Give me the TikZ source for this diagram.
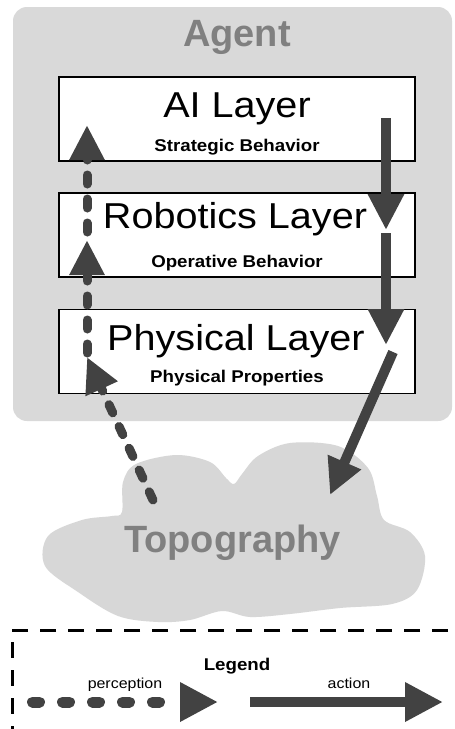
\documentclass[tikz,border=0pt]{standalone}
\usepackage{fontspec}
\setmainfont{Liberation Sans}
\newfontfamily\widesans[FakeStretch=1.1]{Liberation Sans}
\usetikzlibrary{arrows.meta}

\definecolor{agentbg}{RGB}{217,217,217}
\definecolor{cloudbg}{RGB}{215,215,215}
\definecolor{titlegray}{RGB}{128,128,128}
\definecolor{arrowgray}{RGB}{66,66,66}

\begin{document}
\begin{tikzpicture}[x=1pt,y=-1pt,
  agentbox/.style={fill=agentbg, rounded corners=14pt, minimum width=439pt, minimum height=414pt, inner sep=0pt},
  layerbox/.style={draw=black, line width=1.8pt, fill=white, minimum width=356pt, minimum height=84pt, inner sep=0pt},
  bigtitle/.style={anchor=base, text=titlegray, font=\fontsize{38}{38}\selectfont\bfseries, inner sep=0pt},
  layertitle/.style={anchor=base, font=\widesans\fontsize{36}{36}\selectfont, inner sep=0pt},
  layersub/.style={anchor=base, font=\widesans\fontsize{17}{17}\selectfont\bfseries, inner sep=0pt},
  legendtext/.style={anchor=base, font=\widesans\fontsize{14.5}{14.5}\selectfont, inner sep=0pt},
  action/.style={draw=arrowgray, line width=10pt, -{Triangle[width=34pt,length=36pt]}, arrowgray},
  perception/.style={draw=arrowgray, line width=9pt, line cap=round, dash pattern=on 9pt off 15pt, -{Triangle[width=33pt,length=35pt]}, arrowgray},
  legendframe/.style={draw=black, line width=3pt, dash pattern=on 16pt off 12pt, minimum width=470pt, minimum height=140pt, inner sep=0pt}
]
\useasboundingbox (0,0) rectangle (455,729);
\clip (0,0) rectangle (455,729);
\fill[white] (0,0) rectangle (455,729);

% agent container and its three layers
\node[agentbox] (agent) at (232.5,214) {};
\node[bigtitle] (agenttitle) at (237,46) {Agent};

\node[layerbox] (ai) at (237,119) {};
\node[layertitle] (aititle) at (237,117) {AI Layer};
\node[layersub] (aisub) at (237,151) {Strategic Behavior};

\node[layerbox] (robotics) at (237,235) {};
\node[layertitle] (robtitle) at (235,228) {Robotics Layer};
\node[layersub] (robsub) at (237,267) {Operative Behavior};

\node[layerbox] (physical) at (237,351.5) {};
\node[layertitle] (phytitle) at (236,350) {Physical Layer};
\node[layersub] (physub) at (237,382) {Physical Properties};

% topography cloud
\fill[cloudbg] plot[smooth cycle, tension=0.55] coordinates {
  (122,512) (123,482) (136,464) (176,455) (210,462) (226,478) (234,484) (242,474)
  (258,456) (290,443) (338,446) (368,468) (377,496) (384,520)
  (410,532) (425,556) (417,590) (392,604) (340,608) (290,614)
  (250,617) (222,611) (190,620) (158,622) (118,616) (78,592)
  (45,566) (48,536) (82,520) (112,516)};
\node[bigtitle] (topo) at (232.5,552) {Topography};

% action path: AI -> Robotics -> Physical -> Topography
\coordinate (act1s) at (386,118);
\coordinate (act1e) at (386,230);
\coordinate (act2s) at (386,233);
\coordinate (act2e) at (386,345);
\coordinate (act3s) at (393,352);
\coordinate (act3e) at (330,495);
\draw[action] (act1s) -- (act1e);
\draw[action] (act2s) -- (act2e);
\draw[action] (act3s) -- (act3e);

% perception path: Topography -> Physical -> Robotics -> AI
\coordinate (per1s) at (153,500);
\coordinate (per1e) at (87,357);
\coordinate (per2s) at (87,353);
\coordinate (per2e) at (87,240);
\coordinate (per3s) at (87,232);
\coordinate (per3e) at (87,125);
\draw[perception] (per1s) -- (per1e);
\draw[perception] (per2s) -- (per2e);
\draw[perception] (per3s) -- (per3e);

% legend
\node[legendframe] (legend) at (247,700) {};
\node[layersub] (legendtitle) at (237,670) {Legend};
\node[legendtext] (perlabel) at (125,688) {perception};
\node[legendtext] (actlabel) at (349,688) {action};
\coordinate (lps) at (32.5,702);
\coordinate (lpe) at (218,702);
\coordinate (las) at (250,702);
\coordinate (lae) at (443,702);
\draw[perception, line width=11pt, dash pattern=on 7pt off 23pt, -{Triangle[width=37pt,length=38pt]}] (lps) -- (lpe);
\draw[action, -{Triangle[width=37pt,length=38pt]}] (las) -- (lae);
\end{tikzpicture}
\end{document}
